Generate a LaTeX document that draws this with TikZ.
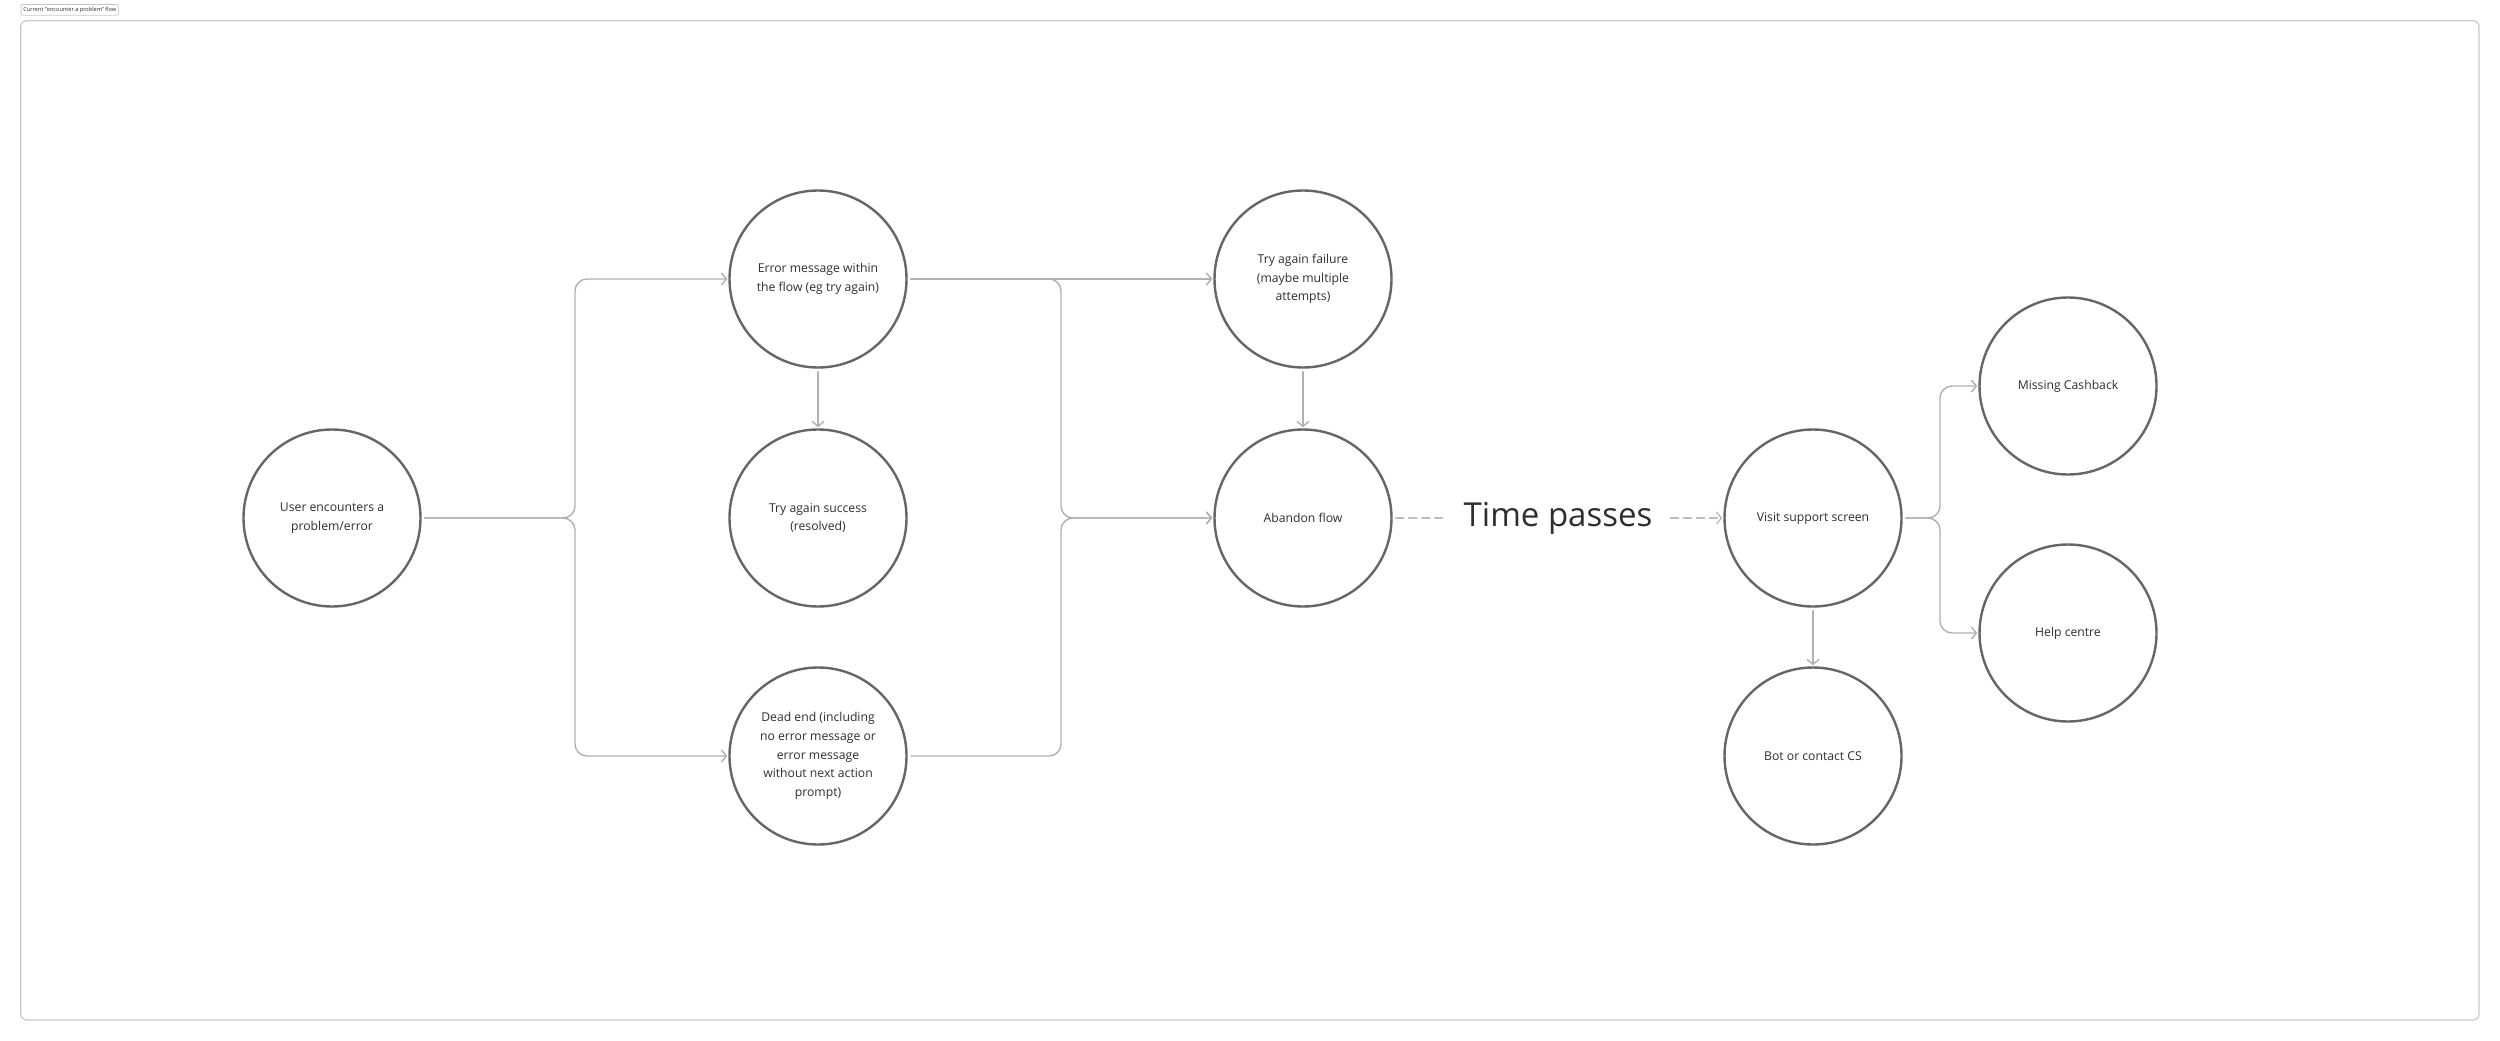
\documentclass[tikz,border=0pt]{standalone}
\usepackage{fontspec}
\setmainfont{Open Sans}
\usetikzlibrary{positioning,arrows.meta}

% ========= Colors =========
\definecolor{ringgray}{HTML}{666666}
\definecolor{linkgray}{HTML}{B0B0B0}
\definecolor{dashgray}{HTML}{BDBDBD}
\definecolor{framegray}{HTML}{C8C8C8}
\definecolor{txtgray}{HTML}{2E2E2E}

\begin{document}
\begin{tikzpicture}[
    x=1pt, y=-1pt,
    >={Straight Barb[length=5pt,width=12pt]},
    line join=round,
    line cap=round,
    stage/.style={circle, draw=ringgray, line width=2.4pt, minimum size=177pt,
        inner sep=0pt, align=center, text=txtgray,
        font=\fontsize{12.2}{18.6}\selectfont},
    link/.style={draw=linkgray, line width=1.4pt, rounded corners=12pt,
        shorten <=3pt, shorten >=1pt},
    waitlink/.style={draw=dashgray, line width=1.4pt, dash pattern=on 8pt off 5pt}
]
\useasboundingbox (0,0) rectangle (2500,1041);

% ========= Frame and title tab =========
\draw[framegray, line width=1.2pt, rounded corners=6pt] (20.7,20.7) rectangle (2479,1020);
\node[draw=framegray, line width=0.8pt, rounded corners=2pt, anchor=north west,
    inner xsep=2.4pt, inner ysep=2.6pt, text=txtgray,
    font=\fontsize{5.6}{6}\selectfont] (tab) at (20.7,4) {Current "encounter a problem" flow};

% ========= Stages =========
\node[stage] (user)     at (332,518)  {User encounters a\\problem/error};
\node[stage] (errmsg)   at (818,279)  {Error message within\\the flow (eg try again)};
\node[stage] (success)  at (818,518)  {Try again success\\(resolved)};
\node[stage] (deadend)  at (818,756)  {Dead end (including\\no error message or\\error message\\without next action\\prompt)};
\node[stage] (failure)  at (1303,279) {Try again failure\\(maybe multiple\\attempts)};
\node[stage] (abandon)  at (1303,518) {Abandon flow};
\node[text=txtgray, inner xsep=18pt, font=\fontsize{33}{36}\selectfont] (wait) at (1558,518) {Time passes};
\node[stage] (support)  at (1813,518) {Visit support screen};
\node[stage] (bot)      at (1813,756) {Bot or contact CS};
\node[stage] (cashback) at (2068,386) {Missing Cashback};
\node[stage] (help)     at (2068,633) {Help centre};

% ========= Fork points =========
\coordinate (forkuser) at (575,518);
\coordinate (forkmid)  at (1061,518);
\coordinate (forksup)  at (1940,518);

% ========= Connectors =========
\draw[link,->] (user) -- (forkuser) |- (errmsg);
\draw[link,->] (user) -- (forkuser) |- (deadend);
\draw[link,->] (errmsg) -- (success);

\draw[link,->] (errmsg) -- (failure);
\draw[link,->] (errmsg.east) -| (forkmid) -- (abandon);
\draw[link,->] (deadend.east) -| (forkmid) -- (abandon);
\draw[link,->] (failure) -- (abandon);

\draw[waitlink, shorten <=3pt] (abandon) -- (wait);
\draw[waitlink, ->, shorten >=1pt] (wait) -- (support);

\draw[link,->] (support) -- (bot);
\draw[link,->] (support) -- (forksup) |- (cashback);
\draw[link,->] (support) -- (forksup) |- (help);

\end{tikzpicture}
\end{document}
